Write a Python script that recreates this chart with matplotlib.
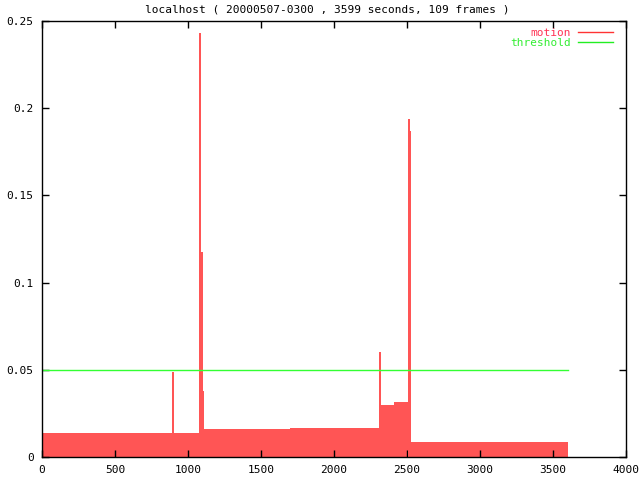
import matplotlib
matplotlib.use("Agg")
import matplotlib.pyplot as plt
from matplotlib.lines import Line2D

# motion level, read as plateaus: edges in seconds, one level per interval
edges = [0, 1073, 1082, 1097, 1100, 1108, 1700, 2315, 2410, 2510, 2526, 3600]
levels = [0.0137, 0.056, 0.104, 0.117, 0.038, 0.0163, 0.0168, 0.030, 0.0318, 0.056, 0.0088]

# single-frame spikes
spike_x = [899, 1084, 1098, 2317, 2511, 2518]
spike_y = [0.0487, 0.243, 0.1175, 0.0602, 0.194, 0.187]

threshold = 0.05
t_end = 3600

xticks = [0, 500, 1000, 1500, 2000, 2500, 3000, 3500, 4000]
yticks = [0, 0.05, 0.1, 0.15, 0.2, 0.25]
ylabels = ["0", "0.05", "0.1", "0.15", "0.2", "0.25"]

red = "#ff5555"
green = "#33ff33"

plt.rcParams["font.family"] = ["DejaVu Sans Mono"]
plt.rcParams["font.size"] = 8

fig = plt.figure(figsize=(6.4, 4.8), dpi=100)
ax = fig.add_axes([42 / 640, 23 / 480, 584 / 640, 436 / 480])

ax.fill_between(edges, levels + [levels[-1]], step="post", color=red, linewidth=0)
ax.vlines(spike_x, 0, spike_y, color=red, linewidth=1.2, antialiased=False)
ax.plot([0, t_end], [threshold, threshold], color=green, linewidth=1)

ax.set_xlim(0, 4000)
ax.set_ylim(0, 0.25)
ax.set_xticks(xticks)
ax.set_yticks(yticks)
ax.set_yticklabels(ylabels)
ax.tick_params(direction="in", top=True, right=True, length=5, width=1, pad=6)
for s in ax.spines.values():
    s.set_linewidth(1)

ax.set_title("localhost ( 20000507-0300 , 3599 seconds, 109 frames )",
             fontsize=8, pad=6, x=0.488)

handles = [Line2D([0], [0], color="#ff3333", lw=1), Line2D([0], [0], color="#22ee22", lw=1)]
leg = ax.legend(handles, ["motion", "threshold"], loc="upper right", frameon=False,
                bbox_to_anchor=(1 - 6 / 584, 1),
                markerfirst=False, handlelength=3.2, handletextpad=0.6,
                labelspacing=0.05, borderaxespad=0.2, fontsize=8)
leg.get_texts()[0].set_color("#ff3355")
leg.get_texts()[1].set_color("#33ee33")

fig.savefig("out.png", dpi=100)
